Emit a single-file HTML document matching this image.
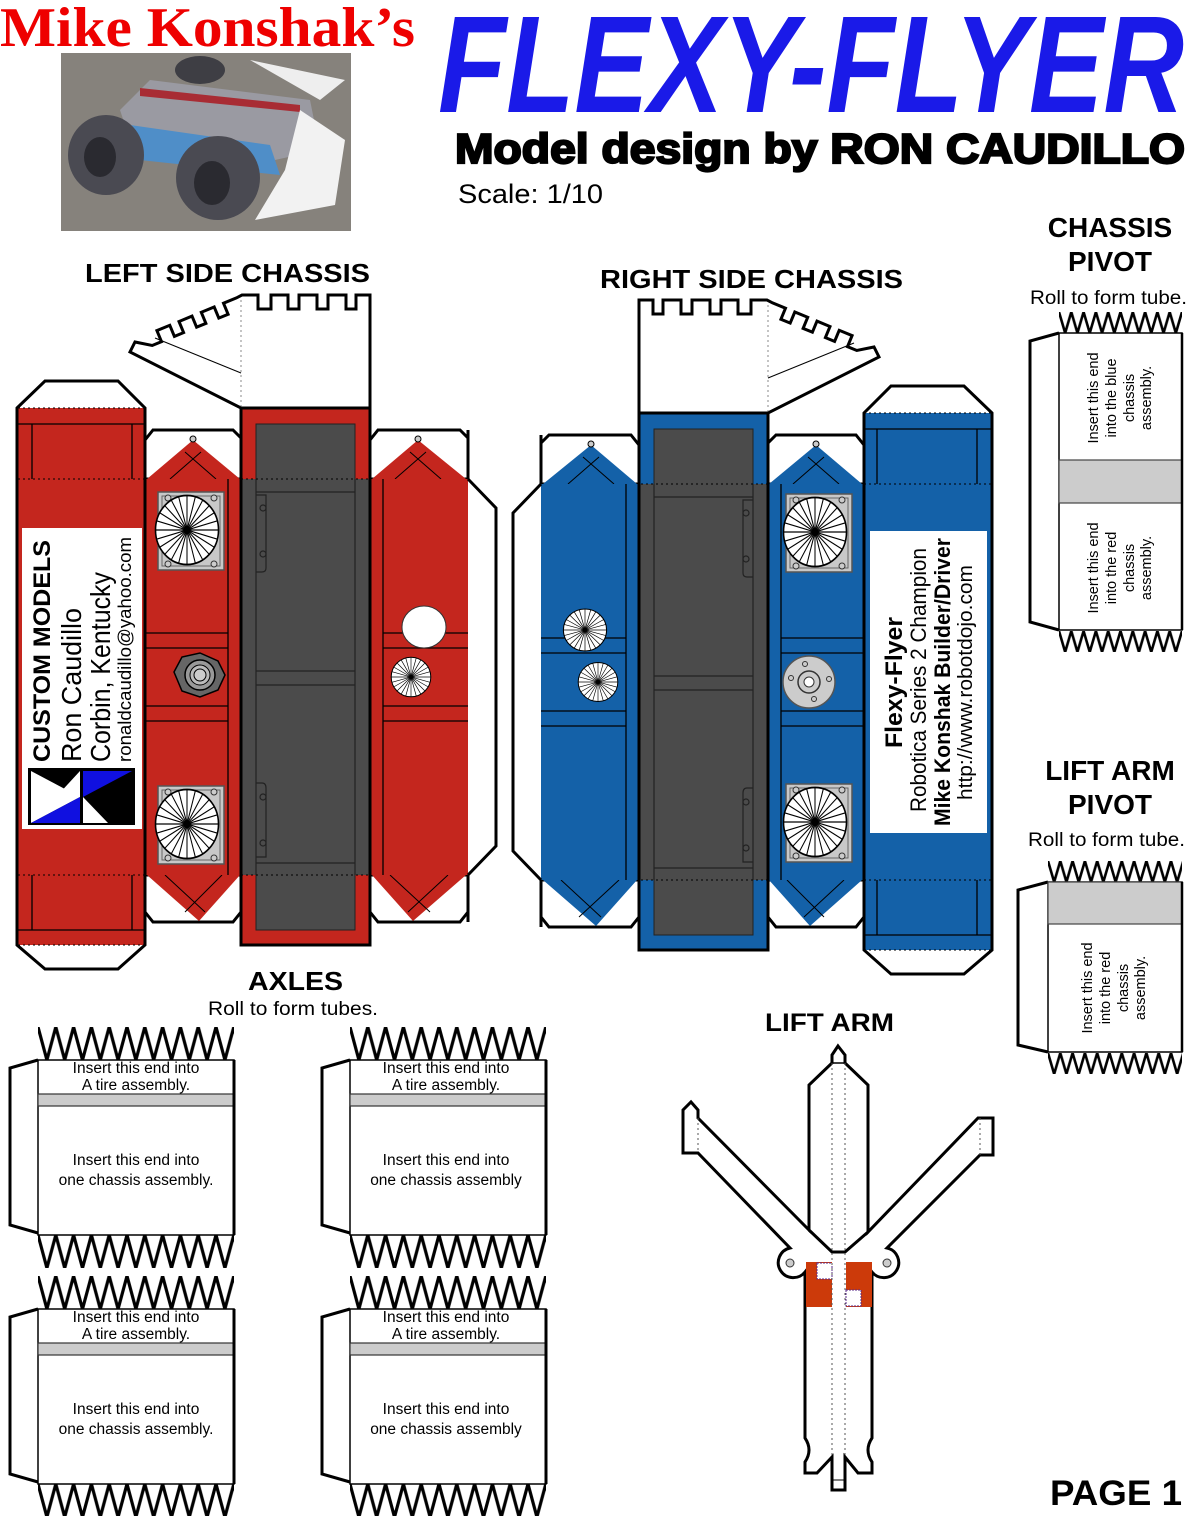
<!DOCTYPE html>
<html><head><meta charset="utf-8"><style>
html,body{margin:0;padding:0;background:#fff}
svg{display:block}
</style></head><body>
<svg width="1186" height="1516" viewBox="0 0 1186 1516" xmlns="http://www.w3.org/2000/svg" font-family="Liberation Sans, Arial, sans-serif">
<defs>
<pattern id="zzA" patternUnits="userSpaceOnUse" width="17.8" height="33">
<path d="M0,0 L8.9,33 L17.8,0" stroke="#000" stroke-width="3.2" fill="none"/>
</pattern>
<pattern id="zzP" patternUnits="userSpaceOnUse" width="12.3" height="21">
<path d="M0,0 L6.15,21 L12.3,0" stroke="#000" stroke-width="2.6" fill="none"/>
</pattern>
<g id="fan">
<circle r="30" fill="#fff" stroke="#000" stroke-width="1.5"/>
<g stroke="#000" stroke-width="1">
<line x1="-30" y1="0" x2="30" y2="0"/><line x1="0" y1="-30" x2="0" y2="30"/>
<line x1="-26" y1="-15" x2="26" y2="15"/><line x1="-26" y1="15" x2="26" y2="-15"/>
<line x1="-15" y1="-26" x2="15" y2="26"/><line x1="-15" y1="26" x2="15" y2="-26"/>
<line x1="-29" y1="-8" x2="29" y2="8"/><line x1="-29" y1="8" x2="29" y2="-8"/>
<line x1="-8" y1="-29" x2="8" y2="29"/><line x1="-8" y1="29" x2="8" y2="-29"/>
<line x1="-21" y1="-21" x2="21" y2="21"/><line x1="-21" y1="21" x2="21" y2="-21"/>
</g>
<circle r="3" fill="#000"/>
</g>
<g id="fanbox">
<rect x="0" y="0" width="66" height="78" fill="#c8c8c8" stroke="#555" stroke-width="1.5"/>
<rect x="4" y="4" width="58" height="70" fill="none" stroke="#666" stroke-width="1"/>
<circle cx="10" cy="6" r="3" fill="#ccc" stroke="#333"/><circle cx="56" cy="6" r="3" fill="#ccc" stroke="#333"/>
<circle cx="10" cy="72" r="3" fill="#ccc" stroke="#333"/><circle cx="56" cy="72" r="3" fill="#ccc" stroke="#333"/>
<use href="#fan" transform="translate(29,38) scale(1.05,1.15)"/>
</g>
<path id="tab" d="M370,408 V295 H356 V309 H346 V295 H328 V309 H317 V295 H299 V309 H288 V295 H271 V309 H258 V295 H242
L236.4,297.9 L223.5,303.2 L228.1,314.3 L218.8,318.1 L214.2,307 L201.3,312.3 L205.9,323.4 L196.6,327.2 L192,316.1 L179,321.5 L183.6,332.6 L174.4,336.4 L169.8,325.3 L156.9,330.6 L161.5,341.7 L152.2,345.5 L135,342 L130,352 L241,408 Z" fill="#fff" stroke="#000" stroke-width="3" stroke-linejoin="miter"/>
<g id="chassis" stroke="#000">
<path d="M17,408 L45,381 L118,381 L145,408 L145,945 L118,969 L45,969 L17,945 Z" fill="#fff" stroke-width="3"/>
<rect x="18" y="408" width="127" height="537" fill="currentColor" stroke="none"/>
<g stroke-width="1.3" fill="none">
<line x1="18" y1="424" x2="145" y2="424"/><line x1="18" y1="930" x2="145" y2="930"/>
<line x1="32" y1="424" x2="32" y2="479"/><line x1="132" y1="424" x2="132" y2="479"/>
<line x1="32" y1="875" x2="32" y2="930"/><line x1="132" y1="875" x2="132" y2="930"/>
</g>
<g stroke-width="1" stroke-dasharray="2,3" fill="none">
<line x1="18" y1="408" x2="145" y2="408"/><line x1="18" y1="479" x2="145" y2="479"/>
<line x1="18" y1="875" x2="145" y2="875"/><line x1="18" y1="945" x2="145" y2="945"/>
</g>
<path d="M17,408 V945 M145,408 V945" stroke-width="3" fill="none"/>
<path d="M145,479 L145,440 L153,430 L233,430 L241,438 L241,479 Z" fill="#fff" stroke-width="3"/>
<path d="M147,479 L193,440 L240,479 Z" fill="currentColor" stroke="none"/>
<path d="M170,479 L201,452 M216,479 L185,452" stroke-width="1" fill="none"/>
<circle cx="193" cy="439" r="3" fill="#ccc" stroke-width="1"/>
<path d="M145,875 L145,912 L153,922 L233,922 L241,912 L241,875 Z" fill="#fff" stroke-width="3"/>
<path d="M147,875 L199,921 L240,875 Z" fill="currentColor" stroke="none"/>
<path d="M165,875 L205,912 M222,875 L185,912" stroke-width="1" fill="none"/>
<rect x="145" y="479" width="96" height="396" fill="currentColor" stroke="none"/>
<g stroke-width="1.3" fill="none">
<line x1="228" y1="479" x2="228" y2="875"/>
<line x1="145" y1="633" x2="228" y2="633"/><line x1="145" y1="648" x2="228" y2="648"/>
<line x1="145" y1="706" x2="228" y2="706"/><line x1="145" y1="721" x2="228" y2="721"/>
</g>
<rect x="241" y="408" width="129" height="537" fill="currentColor" stroke-width="3"/>
<rect x="256" y="424" width="99" height="506" fill="#4b4b4b" stroke="#222" stroke-width="1"/>
<rect x="242" y="479" width="127" height="396" fill="#4b4b4b" stroke="none"/>
<g stroke="#222" stroke-width="1.2" fill="none">
<line x1="256" y1="479" x2="256" y2="875"/><line x1="355" y1="479" x2="355" y2="875"/>
<line x1="256" y1="492" x2="355" y2="492"/><line x1="256" y1="671" x2="355" y2="671"/>
<line x1="256" y1="685" x2="355" y2="685"/><line x1="256" y1="863" x2="355" y2="863"/>
<path d="M256,495 H266 V568 Q266,572 262,572 H256"/><circle cx="263" cy="508" r="3"/><circle cx="263" cy="554" r="3"/>
<path d="M256,783 H262 Q266,783 266,788 V857 H256"/><circle cx="263" cy="797" r="3"/><circle cx="263" cy="843" r="3"/>
</g>
<g stroke-width="1" stroke-dasharray="2,3" fill="none">
<line x1="241" y1="479" x2="370" y2="479"/><line x1="241" y1="875" x2="370" y2="875"/>
</g>
<path d="M370,479 L370,440 L378,430 L460,430 L468,438 L468,479 Z" fill="#fff" stroke-width="3"/>
<path d="M372,479 L418,440 L466,479 Z" fill="currentColor" stroke="none"/>
<path d="M395,479 L426,452 M441,479 L410,452" stroke-width="1" fill="none"/>
<circle cx="418" cy="439" r="3" fill="#ccc" stroke-width="1"/>
<path d="M370,875 L370,912 L378,922 L460,922 L468,912 L468,875 Z" fill="#fff" stroke-width="3"/>
<path d="M372,875 L413,921 L466,875 Z" fill="currentColor" stroke="none"/>
<path d="M390,875 L430,912 M448,875 L408,912" stroke-width="1" fill="none"/>
<rect x="370" y="479" width="98" height="396" fill="currentColor" stroke="none"/>
<g stroke-width="1.3" fill="none">
<line x1="383" y1="479" x2="383" y2="875"/>
<line x1="383" y1="633" x2="468" y2="633"/><line x1="383" y1="648" x2="468" y2="648"/>
<line x1="383" y1="706" x2="468" y2="706"/><line x1="383" y1="721" x2="468" y2="721"/>
</g>
<path d="M468,479 L496,508 L496,846 L468,875" fill="#fff" stroke-width="3"/>
<path d="M370,430 V922 M468,430 V479 M468,875 V922 M241,408 V945 M145,430 V922" stroke-width="3" fill="none"/>
</g>
<g id="zza"><rect x="0" y="0" width="196" height="33" fill="url(#zzA)"/></g>
<g id="axle">
<use href="#zza" transform="translate(28,0)"/>
<path d="M28,33 L0,41 L0,198 L28,206" fill="#fff" stroke="#000" stroke-width="3"/>
<rect x="28" y="33" width="196" height="175" fill="#fff" stroke="#000" stroke-width="1.5"/>
<rect x="28" y="67" width="196" height="12" fill="#ccc" stroke="#333" stroke-width="1.2"/>
<line x1="224" y1="33" x2="224" y2="208" stroke="#000" stroke-width="3"/>
<use href="#zza" transform="translate(28,208)"/>
</g>
</defs>

<text x="0" y="46" style="font-family:'Liberation Serif',serif" font-weight="bold" font-size="56" fill="#ee0000" textLength="415" lengthAdjust="spacingAndGlyphs">Mike Konshak’s</text>
<text x="438" y="112" font-weight="bold" font-style="italic" font-size="138" fill="#1a1ae8" textLength="746" lengthAdjust="spacingAndGlyphs">FLEXY-FLYER</text>
<text x="455" y="163" font-weight="bold" font-size="42" fill="#000" stroke="#000" stroke-width="2.2" textLength="730" lengthAdjust="spacingAndGlyphs">Model design by RON CAUDILLO</text>
<text x="458" y="203" font-size="27" fill="#000" textLength="145" lengthAdjust="spacingAndGlyphs">Scale: 1/10</text>

<rect x="61" y="53" width="290" height="178" fill="#86827c"/>
<ellipse cx="200" cy="70" rx="25" ry="14" fill="#3e3e44"/>
<path d="M120,110 L150,80 L310,100 L320,150 L275,160 L130,140 Z" fill="#9a9aa2"/>
<path d="M140,88 L300,105 L300,112 L140,96 Z" fill="#a82c34"/>
<path d="M130,125 L270,145 L280,175 L140,160 Z" fill="#4f8ec8"/>
<path d="M250,60 L345,80 L320,100 Z" fill="#eee"/>
<path d="M300,110 L345,140 L335,205 L255,220 L285,170 Z" fill="#f2f2f2"/>
<ellipse cx="106" cy="155" rx="38" ry="40" fill="#4a4a52"/>
<ellipse cx="100" cy="157" rx="16" ry="20" fill="#2a2a30"/>
<ellipse cx="218" cy="178" rx="42" ry="42" fill="#4a4a52"/>
<ellipse cx="212" cy="183" rx="18" ry="22" fill="#2a2a30"/>

<text x="85" y="282" font-weight="bold" font-size="26" textLength="285" lengthAdjust="spacingAndGlyphs">LEFT SIDE CHASSIS</text>
<text x="600" y="288" font-weight="bold" font-size="26" textLength="303" lengthAdjust="spacingAndGlyphs">RIGHT SIDE CHASSIS</text>
<text x="1110" y="237" font-weight="bold" font-size="28" text-anchor="middle">CHASSIS</text>
<text x="1110" y="271" font-weight="bold" font-size="28" text-anchor="middle">PIVOT</text>
<text x="1030" y="304" font-size="19" textLength="157" lengthAdjust="spacingAndGlyphs">Roll to form tube.</text>
<text x="1110" y="780" font-weight="bold" font-size="28" text-anchor="middle">LIFT ARM</text>
<text x="1110" y="814" font-weight="bold" font-size="28" text-anchor="middle">PIVOT</text>
<text x="1028" y="846" font-size="19" textLength="157" lengthAdjust="spacingAndGlyphs">Roll to form tube.</text>
<text x="248" y="990" font-weight="bold" font-size="26" textLength="95" lengthAdjust="spacingAndGlyphs">AXLES</text>
<text x="208" y="1015" font-size="19" textLength="170" lengthAdjust="spacingAndGlyphs">Roll to form tubes.</text>
<text x="765" y="1031" font-weight="bold" font-size="25" textLength="129" lengthAdjust="spacingAndGlyphs">LIFT ARM</text>
<text x="1050" y="1505" font-weight="bold" font-size="35" textLength="132" lengthAdjust="spacingAndGlyphs">PAGE 1</text>

<use href="#tab"/>
<line x1="241" y1="300" x2="241" y2="408" stroke="#888" stroke-width="1" stroke-dasharray="2,3"/>
<line x1="155" y1="338" x2="241" y2="373" stroke="#000" stroke-width="1"/>
<use href="#chassis" style="color:#c4261e"/>
<rect x="22" y="528" width="120" height="301" fill="#fff"/>
<text transform="translate(50,762) rotate(-90)" font-weight="bold" font-size="24" textLength="222" lengthAdjust="spacingAndGlyphs">CUSTOM MODELS</text>
<text transform="translate(81,762) rotate(-90)" font-size="28" textLength="154" lengthAdjust="spacingAndGlyphs">Ron Caudillo</text>
<text transform="translate(110,762) rotate(-90)" font-size="28" textLength="190" lengthAdjust="spacingAndGlyphs">Corbin, Kentucky</text>
<text transform="translate(131,762) rotate(-90)" font-size="18" textLength="225" lengthAdjust="spacingAndGlyphs">ronaldcaudillo@yahoo.com</text>
<g transform="translate(28,768)">
<rect width="107" height="57" fill="#000"/>
<path d="M3,3 L52,29 L3,55 Z" fill="#fff"/>
<path d="M3,55 L52,29 L52,55 Z" fill="#1010e0"/>
<path d="M55,3 L104,3 L55,29 Z" fill="#1010e0"/>
<path d="M55,29 L55,55 L80,55 Z" fill="#fff"/>
<path d="M52,29 L52,3 L28,29 Z" fill="#fff"/>
</g>
<use href="#fanbox" transform="translate(158,492)"/>
<use href="#fanbox" transform="translate(158,786)"/>
<g transform="translate(200,675)">
<path d="M-26,-3 L-18,-18 L0,-22 L18,-14 L25,0 L18,15 L0,22 L-18,16 Z" fill="#666" stroke="#000" stroke-width="1.5"/>
<circle r="15" fill="#999" stroke="#000" stroke-width="1.5"/>
<circle r="10" fill="#bbb" stroke="#000"/>
<circle r="6" fill="#ccc" stroke="#000"/>
</g>
<ellipse cx="424" cy="627" rx="22" ry="21" fill="#fff" stroke="#333"/>
<use href="#fan" transform="translate(411,677) scale(0.66,0.66)"/>

<g transform="translate(1009,5) scale(-1,1)">
<use href="#tab"/>
<line x1="241" y1="300" x2="241" y2="408" stroke="#888" stroke-width="1" stroke-dasharray="2,3"/>
<line x1="155" y1="338" x2="241" y2="373" stroke="#000" stroke-width="1"/>
<use href="#chassis" style="color:#1461a8"/>
</g>
<rect x="870" y="531" width="117" height="302" fill="#fff"/>
<text transform="translate(902,748) rotate(-90)" font-weight="bold" font-size="24" textLength="131" lengthAdjust="spacingAndGlyphs">Flexy-Flyer</text>
<text transform="translate(926,812) rotate(-90)" font-size="22" textLength="264" lengthAdjust="spacingAndGlyphs">Robotica Series 2 Champion</text>
<text transform="translate(950,826) rotate(-90)" font-weight="bold" font-size="22" textLength="288" lengthAdjust="spacingAndGlyphs">Mike Konshak  Builder/Driver</text>
<text transform="translate(972,800) rotate(-90)" font-size="20" textLength="235" lengthAdjust="spacingAndGlyphs">http://www.robotdojo.com</text>
<use href="#fanbox" transform="translate(786,494)"/>
<use href="#fanbox" transform="translate(786,784)"/>
<use href="#fan" transform="translate(585,630) scale(0.72,0.7)"/>
<use href="#fan" transform="translate(598,682) scale(0.66,0.65)"/>
<g transform="translate(809,682)">
<circle r="26" fill="#ccc" stroke="#555" stroke-width="1.5"/>
<circle r="11" fill="none" stroke="#333" stroke-width="1.5"/>
<circle r="5" fill="#fff" stroke="#333"/>
<circle cx="-18" cy="-4" r="2.5" fill="none" stroke="#333"/><circle cx="20" cy="-3" r="2.5" fill="none" stroke="#333"/>
<circle cx="-4" cy="-18" r="2.5" fill="none" stroke="#333"/><circle cx="5" cy="17" r="2.5" fill="none" stroke="#333"/>
</g>

<g transform="translate(1059,312)"><rect width="123" height="21" fill="url(#zzP)"/></g>
<path d="M1059,333 L1030,341 L1030,622 L1059,630" fill="#fff" stroke="#000" stroke-width="3"/>
<rect x="1059" y="333" width="123" height="297" fill="#fff" stroke="#000" stroke-width="1.5"/>
<rect x="1059" y="460" width="123" height="43" fill="#ccc" stroke="#444" stroke-width="1.2"/>
<line x1="1182" y1="333" x2="1182" y2="630" stroke="#000" stroke-width="2.5"/>
<g transform="translate(1059,631)"><rect width="123" height="21" fill="url(#zzP)"/></g>
<g font-size="14.5" text-anchor="middle">
<text transform="translate(1098,398) rotate(-90)">Insert this end</text>
<text transform="translate(1116,398) rotate(-90)">into the blue</text>
<text transform="translate(1134,398) rotate(-90)">chassis</text>
<text transform="translate(1151,398) rotate(-90)">assembly.</text>
<text transform="translate(1098,568) rotate(-90)">Insert this end</text>
<text transform="translate(1116,568) rotate(-90)">into the red</text>
<text transform="translate(1134,568) rotate(-90)">chassis</text>
<text transform="translate(1151,568) rotate(-90)">assembly.</text>
</g>

<g transform="translate(1048,861)"><rect width="134" height="21" fill="url(#zzP)"/></g>
<path d="M1048,882 L1018,890 L1018,1045 L1048,1052" fill="#fff" stroke="#000" stroke-width="3"/>
<rect x="1048" y="882" width="134" height="170" fill="#fff" stroke="#000" stroke-width="1.5"/>
<rect x="1048" y="882" width="134" height="42" fill="#ccc" stroke="#444" stroke-width="1.2"/>
<line x1="1182" y1="882" x2="1182" y2="1052" stroke="#000" stroke-width="2.5"/>
<g transform="translate(1048,1053)"><rect width="134" height="21" fill="url(#zzP)"/></g>
<g font-size="14.5" text-anchor="middle">
<text transform="translate(1092,988) rotate(-90)">Insert this end</text>
<text transform="translate(1110,988) rotate(-90)">into the red</text>
<text transform="translate(1128,988) rotate(-90)">chassis</text>
<text transform="translate(1145,988) rotate(-90)">assembly.</text>
</g>

<use href="#axle" transform="translate(10,1027)"/>
<use href="#axle" transform="translate(322,1027)"/>
<use href="#axle" transform="translate(10,1276)"/>
<use href="#axle" transform="translate(322,1276)"/>
<g font-size="15.5" text-anchor="middle">
<text x="136" y="1073">Insert this end into</text><text x="136" y="1090">A tire assembly.</text>
<text x="136" y="1165">Insert this end into</text><text x="136" y="1185">one chassis assembly.</text>
<text x="446" y="1073">Insert this end into</text><text x="446" y="1090">A tire assembly.</text>
<text x="446" y="1165">Insert this end into</text><text x="446" y="1185">one chassis assembly</text>
<text x="136" y="1322">Insert this end into</text><text x="136" y="1339">A tire assembly.</text>
<text x="136" y="1414">Insert this end into</text><text x="136" y="1434">one chassis assembly.</text>
<text x="446" y="1322">Insert this end into</text><text x="446" y="1339">A tire assembly.</text>
<text x="446" y="1414">Insert this end into</text><text x="446" y="1434">one chassis assembly</text>
</g>

<path d="M838,1046 L845,1055 L845,1063 L868,1085 L868,1232 L978,1118 L993,1118 L993,1155 L980,1155 L887,1248
A15,15 0 1 1 872,1272 L872,1438 Q864,1450 872,1462 L872,1473 L858,1473 L845,1457 L845,1490 L832,1490 L832,1457 L817,1473 L805,1473 L805,1462 Q813,1450 805,1438 L805,1272
A15,15 0 1 1 790,1248 L698,1153 L683,1153 L683,1110 L691,1102 L698,1110 L698,1118 L809,1230 L809,1085 L832,1063 L832,1055 Z"
fill="#fff" stroke="#000" stroke-width="3" stroke-linejoin="miter"/>
<path d="M832,1063 H845" stroke="#000" stroke-width="1.5"/>
<rect x="806" y="1262" width="26" height="45" fill="#cc3a0a"/>
<rect x="846" y="1262" width="26" height="45" fill="#cc3a0a"/>
<rect x="817" y="1263" width="15" height="16" fill="#fff" stroke="#5a2a8a" stroke-width="1" stroke-dasharray="2,1"/>
<rect x="846" y="1290" width="15" height="16" fill="#fff" stroke="#5a2a8a" stroke-width="1" stroke-dasharray="2,1"/>
<path d="M809,1230 L832,1252 H845 L868,1232" fill="none" stroke="#000" stroke-width="3"/>
<g stroke="#555" stroke-width="1" stroke-dasharray="2,3">
<line x1="832" y1="1063" x2="832" y2="1457"/><line x1="845" y1="1063" x2="845" y2="1457"/>
<line x1="698" y1="1118" x2="698" y2="1153"/><line x1="980" y1="1118" x2="980" y2="1155"/>
</g>
<path d="M832,1480 H845" stroke="#000" stroke-width="1"/>
<circle cx="790" cy="1263" r="4" fill="#ccc" stroke="#333"/>
<circle cx="887" cy="1263" r="4" fill="#ccc" stroke="#333"/>
</svg>
</body></html>
